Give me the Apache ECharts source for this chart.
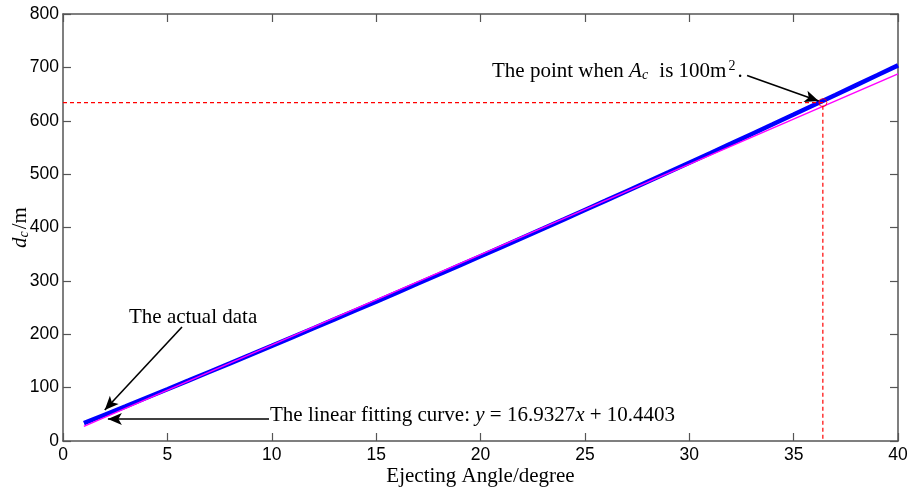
<!DOCTYPE html>
<html><head><meta charset="utf-8">
<script src="https://cdn.jsdelivr.net/npm/echarts@6/dist/echarts.min.js"></script>
<style>html,body{margin:0;padding:0;background:#fff}#c{width:913px;height:490px}</style>
</head><body><div id="c"></div>
<script>
// Ejecting angle (degree)
const angles = [1,2,3,4,5,6,7,8,9,10,11,12,13,14,15,16,17,18,19,20,21,22,23,24,25,26,27,28,29,30,31,32,33,34,35,36,37,38,39,40];
// actual d_c (m)
const actualDc = [33.4,49.2,65.0,81.0,97.0,113.1,129.3,145.5,161.8,178.2,194.7,211.2,227.8,244.5,261.2,278.1,295.0,311.9,329.0,346.1,363.3,380.6,397.9,415.3,432.8,450.3,468.0,485.7,503.4,521.3,539.2,557.2,575.3,593.4,611.6,629.9,648.2,666.7,685.2,703.8];
// linear fitting curve end points: y = 16.9327x + 10.4403
const fitX = [1, 40];
const fitY = [27.37, 687.75];
// point when A_c is 100 m^2
const markX = 36.4;
const markY = 634;
const xTicks = [0,5,10,15,20,25,30,35,40];
const yTicks = [0,100,200,300,400,500,600,700,800];

const serif = 'Liberation Serif';
const sans = 'Liberation Sans';
const axisCol = '#555';

const chart = echarts.init(document.getElementById('c'), null, {renderer:'canvas'});
const commonAxis = {
  axisLine:{show:true, onZero:false, lineStyle:{color:axisCol, width:1.5}},
  axisTick:{show:true, inside:true, length:8, lineStyle:{color:axisCol, width:1.2}},
  splitLine:{show:false}
};
chart.setOption({
  animation:false,
  backgroundColor:'#fff',
  grid:{left:63, right:15, top:14, bottom:49, containLabel:false, outerBoundsMode:'none'},
  xAxis:[
    Object.assign({type:'value', min:xTicks[0], max:xTicks[xTicks.length-1], interval:5, position:'bottom',
      axisLabel:{color:'#000', fontFamily:sans, fontSize:17.5, margin:5},
      name:'Ejecting Angle/degree', nameLocation:'middle', nameGap:25, nameMoveOverlap:false,
      nameTextStyle:{color:'#000', fontFamily:serif, fontSize:21}}, commonAxis),
    Object.assign({type:'value', min:0, max:40, interval:5, position:'top', axisLabel:{show:false}}, commonAxis)
  ],
  yAxis:[
    Object.assign({type:'value', min:yTicks[0], max:yTicks[yTicks.length-1], interval:100, position:'left',
      axisLabel:{color:'#000', fontFamily:sans, fontSize:17.5, margin:4},
      name:'{i|d}{s|c}{n|/m}', nameLocation:'middle', nameGap:32, nameRotate:90, nameMoveOverlap:false,
      nameTextStyle:{color:'#000', fontFamily:serif, fontSize:21,
        rich:{
          i:{fontFamily:serif, fontStyle:'italic', fontSize:21, color:'#000', verticalAlign:'bottom', lineHeight:24},
          s:{fontFamily:serif, fontStyle:'italic', fontSize:14, color:'#000', verticalAlign:'bottom', lineHeight:24, padding:[0,2,0,0]},
          n:{fontFamily:serif, fontSize:21, color:'#000', verticalAlign:'bottom', lineHeight:24}
        }}}, commonAxis),
    Object.assign({type:'value', min:0, max:800, interval:100, position:'right', axisLabel:{show:false}}, commonAxis)
  ],
  series:[
    {type:'line', name:'actual', data:angles.map((a,i)=>[a, actualDc[i]]), showSymbol:false, symbol:'none',
      lineStyle:{color:'#0000ff', width:4.5}, z:2},
    {type:'line', name:'fit', data:fitX.map((a,i)=>[a, fitY[i]]), showSymbol:false, symbol:'none',
      lineStyle:{color:'#ff00ff', width:1.5}, z:3},
    {type:'line', name:'guide', data:[[0,markY],[markX,markY],[markX,0]], symbol:'none',
      lineStyle:{color:'#ff0000', width:1.2, type:[4,3]}, z:4},
    {type:'scatter', data:[[markX,markY]], symbol:'circle', symbolSize:8,
      itemStyle:{color:'rgba(0,0,0,0)', borderColor:'#ff0000', borderWidth:1}, z:5,
      markLine:{silent:true, symbol:['none','arrow'], symbolSize:[9,14], animation:false,
        lineStyle:{color:'#000', width:1.6, type:'solid'}, label:{show:false},
        data:[
          [{coord:[32.77,685]},{coord:[36.2,637]}],
          [{coord:[5.7,213.5]},{coord:[2.0,58]}],
          [{coord:[9.87,41]},{coord:[2.15,41]}]
        ]}}
  ],
  graphic:[
    {type:'text', left:492, top:59, style:{
      text:'{n|The point when }{i|A}{s|c}{n| is 100m}{p|2}{n|.}',
      rich:{
        n:{fontFamily:serif, fontSize:21, fill:'#000', verticalAlign:'bottom', lineHeight:26},
        i:{fontFamily:serif, fontStyle:'italic', fontSize:21, fill:'#000', verticalAlign:'bottom', lineHeight:26},
        s:{fontFamily:serif, fontStyle:'italic', fontSize:14, fill:'#000', verticalAlign:'bottom', lineHeight:26, padding:[0,6,0,0]},
        p:{fontFamily:serif, fontSize:14, fill:'#000', verticalAlign:'bottom', lineHeight:26, padding:[0,2,9,2]}
      }}},
    {type:'text', left:129, top:307, style:{text:'The actual data', font:'21px "Liberation Serif"', fill:'#000'}},
    {type:'text', left:270, top:405, style:{
      text:'{n|The linear fitting curve: }{i|y}{n| = 16.9327}{i|x}{n| + 10.4403}',
      rich:{
        n:{fontFamily:serif, fontSize:21, fill:'#000'},
        i:{fontFamily:serif, fontStyle:'italic', fontSize:21, fill:'#000'}
      }}}
  ]
});
</script></body></html>
